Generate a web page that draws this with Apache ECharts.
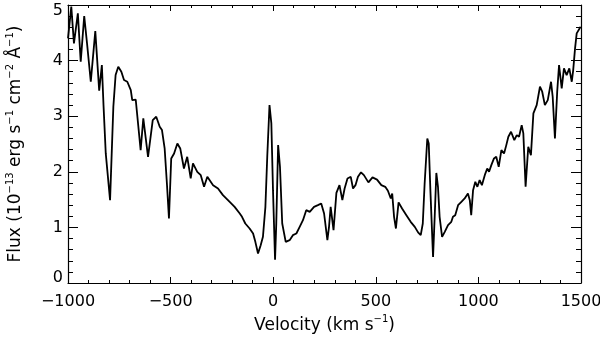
<!DOCTYPE html>
<html>
<head>
<meta charset="utf-8">
<script src="https://cdn.jsdelivr.net/npm/echarts@6/dist/echarts.min.js"></script>
<style>
html,body{margin:0;padding:0;background:#fff;}
#chart{width:600px;height:337px;}
</style>
</head>
<body>
<div id="chart"></div>
<script>
// Velocity (km/s) sample positions
var velocity = [
 -1000,-984,-971,-952,-938,-921,-907,-889,-867,-848,-835,-827,-816,-808,-795,-779,-768,-755,-740,-727,
 -711,-694,-687,-670,-646,-633,-610,-587,-570,-553,-542,-529,-518,-508,-497,-483,-467,-453,-435,-419,
 -402,-391,-370,-353,-337,-321,-293,-269,-245,-212,-188,-163,-152,-136,-115,-98,-87,-74,-61,-50,
 -38,-29,-18,-9,-1,9,15,24,33,44,61,80,96,113,129,145,161,178,199,218,
 234,248,254,264,272,280,294,308,323,337,348,362,378,389,401,413,428,442,464,484,
 506,527,546,559,573,580,589,598,611,628,649,670,690,706,719,729,738,751,758,766,
 779,787,795,803,811,823,836,852,868,876,887,901,917,933,949,958,965,974,985,995,
 1006,1017,1031,1043,1052,1063,1076,1087,1099,1112,1125,1136,1146,1159,1175,1187,1198,1211,1219,1230,
 1243,1256,1268,1284,1300,1311,1324,1338,1354,1362,1373,1384,1393,1406,1417,1430,1443,1455,1462,1471,
 1479,1487,1498
];
// Flux (1e-13 erg s^-1 cm^-2 A^-1)
var flux = [
 4.40,4.97,4.31,4.85,3.98,4.80,4.30,3.62,4.53,3.46,3.92,3.20,2.33,2.30,1.49,3.17,3.74,3.89,3.80,3.65,
 3.62,3.47,3.29,3.30,2.39,2.96,2.27,2.93,2.99,2.81,2.75,2.42,1.79,1.16,2.24,2.33,2.51,2.42,2.06,2.27,
 1.88,2.15,2.00,1.94,1.73,1.91,1.76,1.70,1.58,1.46,1.37,1.25,1.19,1.07,0.98,0.89,0.74,0.53,0.68,0.83,
 1.37,2.27,3.20,2.87,1.67,0.42,1.07,2.48,2.09,1.07,0.74,0.77,0.86,0.89,1.01,1.13,1.31,1.28,1.37,1.40,
 1.43,1.25,1.22,0.77,1.01,1.37,0.95,1.62,1.76,1.49,1.70,1.88,1.91,1.70,1.76,1.91,1.99,1.94,1.81,1.90,
 1.86,1.76,1.73,1.66,1.52,1.61,1.19,0.98,1.45,1.34,1.22,1.10,1.01,0.91,0.86,1.07,1.79,2.60,2.51,1.67,
 0.47,1.19,1.98,1.73,1.19,0.83,0.92,1.04,1.10,1.19,1.22,1.40,1.46,1.52,1.61,1.49,1.22,1.67,1.82,1.73,
 1.85,1.76,1.94,2.06,2.00,2.12,2.24,2.27,2.09,2.39,2.33,2.48,2.63,2.72,2.57,2.66,2.63,2.84,2.69,1.73,
 2.45,2.30,3.05,3.20,3.53,3.44,3.20,3.29,3.62,3.35,2.60,3.44,3.92,3.50,3.86,3.74,3.86,3.62,3.83,4.22,
 4.49,4.52,4.61
];
var xTicks = [-1000, -500, 0, 500, 1000, 1500];
var yTicks = [0, 1, 2, 3, 4, 5];

var FONT = "'DejaVu Sans', 'Liberation Sans', Arial, sans-serif";
var data = velocity.map(function (v, i) { return [v, flux[i]]; });

function fmtX(v) { return v < 0 ? '\u2212' + Math.abs(v) : String(v); }
function fmtY(v) {
  if (v === yTicks[yTicks.length - 1]) return '{top|' + v + '}';
  if (v === yTicks[0]) return '{bot|' + v + '}';
  return String(v);
}

var chart = echarts.init(document.getElementById('chart'), null, {renderer: 'canvas'});
var axisLineStyle = {color: '#000', width: 1.2};
var supStyle = {fontSize: 10, fontFamily: FONT, color: '#000', verticalAlign: 'top', lineHeight: 22};
var nStyle = {fontSize: 17, fontFamily: FONT, color: '#000', lineHeight: 22};

chart.setOption({
  animation: false,
  backgroundColor: '#fff',
  grid: {left: 68, right: 19, top: 5, bottom: 54, containLabel: false, outerBoundsMode: 'none'},
  xAxis: [{
    type: 'value', min: xTicks[0], max: xTicks[xTicks.length - 1], interval: 500,
    position: 'bottom',
    axisLine: {show: true, onZero: false, lineStyle: axisLineStyle},
    axisTick: {show: true, inside: true, length: 6, lineStyle: {color: '#000'}},
    minorTick: {show: true, splitNumber: 5, length: 3, lineStyle: {color: '#000'}},
    splitLine: {show: false},
    axisLabel: {show: true, formatter: fmtX, fontSize: 16, fontFamily: FONT, color: '#000', margin: 11,
      showMinLabel: true, showMaxLabel: true, hideOverlap: false},
    name: '{n|Velocity (km s}{s|\u22121}{n|)}',
    nameLocation: 'middle', nameGap: 29,
    nameTextStyle: {fontSize: 17, fontFamily: FONT, color: '#000',
      rich: {n: nStyle, s: supStyle}}
  }, {
    type: 'value', min: xTicks[0], max: xTicks[xTicks.length - 1], interval: 500,
    position: 'top',
    axisLine: {show: true, onZero: false, lineStyle: axisLineStyle},
    axisTick: {show: true, inside: true, length: 6, lineStyle: {color: '#000'}},
    minorTick: {show: true, splitNumber: 5, length: 3, lineStyle: {color: '#000'}},
    splitLine: {show: false},
    axisLabel: {show: false}
  }],
  yAxis: [{
    type: 'value', min: yTicks[0], max: yTicks[yTicks.length - 1], interval: 1,
    position: 'left',
    axisLine: {show: true, onZero: false, lineStyle: axisLineStyle},
    axisTick: {show: true, inside: true, length: 10, lineStyle: {color: '#000'}},
    minorTick: {show: true, splitNumber: 5, length: 5, lineStyle: {color: '#000'}},
    splitLine: {show: false},
    axisLabel: {show: true, formatter: fmtY, fontSize: 16, fontFamily: FONT, color: '#000', margin: 5,
      showMinLabel: true, showMaxLabel: true,
      rich: {
        top: {fontSize: 16, fontFamily: FONT, color: '#000', padding: [11, 0, 0, 0]},
        bot: {fontSize: 16, fontFamily: FONT, color: '#000', padding: [0, 0, 11, 0]}
      }},
    name: '{n|Flux (10}{s|\u221213}{n| erg s}{s|\u22121}{n| cm}{s|\u22122}{n| \u00C5}{s|\u22121}{n|)}',
    nameLocation: 'middle', nameGap: 41, nameRotate: 90,
    nameTextStyle: {fontSize: 17, fontFamily: FONT, color: '#000',
      rich: {n: nStyle, s: supStyle}}
  }, {
    type: 'value', min: yTicks[0], max: yTicks[yTicks.length - 1], interval: 1,
    position: 'right',
    axisLine: {show: true, onZero: false, lineStyle: axisLineStyle},
    axisTick: {show: true, inside: true, length: 10, lineStyle: {color: '#000'}},
    minorTick: {show: true, splitNumber: 5, length: 5, lineStyle: {color: '#000'}},
    splitLine: {show: false},
    axisLabel: {show: false}
  }],
  series: [{
    type: 'line',
    xAxisIndex: 0, yAxisIndex: 0,
    data: data,
    showSymbol: false,
    symbol: 'none',
    lineStyle: {color: '#000', width: 1.8},
    clip: true
  }]
});
</script>
</body>
</html>
